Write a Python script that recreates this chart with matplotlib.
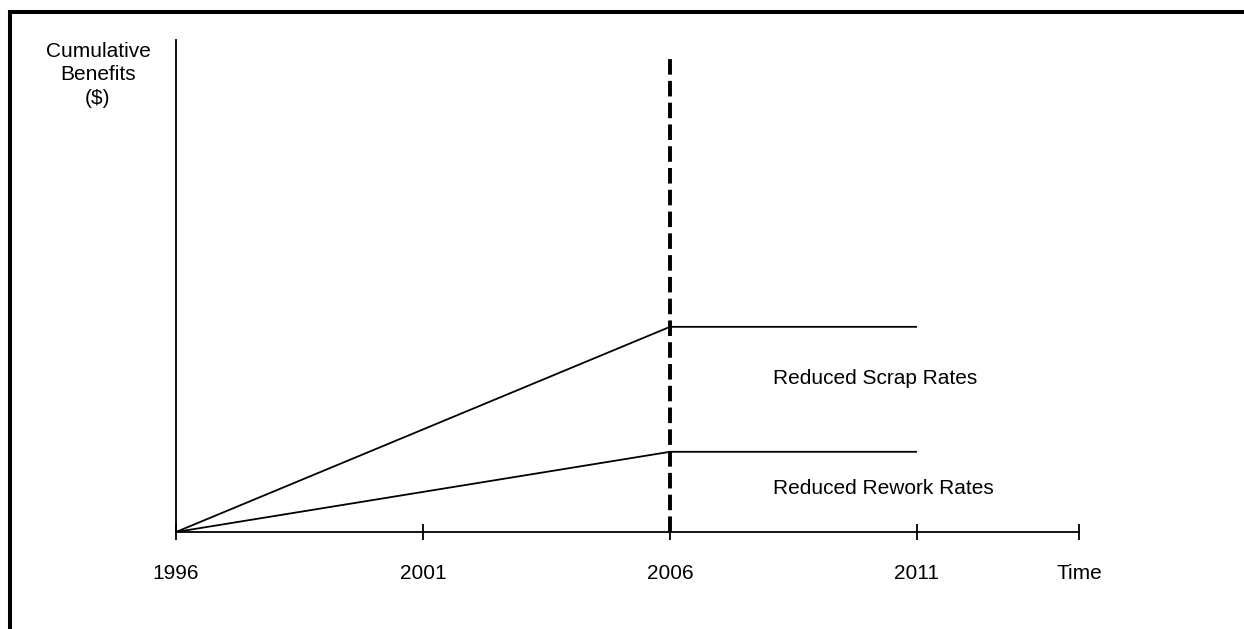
import matplotlib
matplotlib.use('Agg')
import matplotlib.pyplot as plt
from matplotlib.lines import Line2D

plt.rcParams['font.family'] = ['Liberation Sans', 'DejaVu Sans']

# Dados
anos = [1996, 2006, 2011]
sucata = [0, 41.7, 41.7]
retrabalho = [0, 16.3, 16.3]
ticks_x = [1996, 2001, 2006, 2011, 2014.28]
rotulos_x = ['1996', '2001', '2006', '2011', 'Time']
ano_corte = 2006
topo_corte = 96.5

fig = plt.figure(figsize=(12.44, 6.29), dpi=100)
ax = fig.add_axes([176 / 1244, 97 / 629, 903 / 1244, 492 / 629])
ax.set_xlim(1996, 2014.28)
ax.set_ylim(0, 100)

# Linhas de beneficio
ax.plot(anos, sucata, color='black', lw=1.3, solid_capstyle='butt')
ax.plot(anos, retrabalho, color='black', lw=1.3, solid_capstyle='butt')

# Linha tracejada vertical
ax.plot([ano_corte, ano_corte], [0, topo_corte], color='black', lw=2.8,
        dashes=(4.0, 1.6))

ax.text(2008.08, 31.3, 'Reduced Scrap Rates', fontsize=15, va='center', ha='left')
ax.text(2008.08, 8.9, 'Reduced Rework Rates', fontsize=15, va='center', ha='left')

# Eixos
for lado in ['top', 'right']:
    ax.spines[lado].set_visible(False)
ax.spines['left'].set_linewidth(1.3)
ax.spines['bottom'].set_linewidth(1.3)
ax.set_yticks([])
ax.set_xticks(ticks_x)
ax.set_xticklabels(rotulos_x, fontsize=15)
ax.tick_params(axis='x', direction='inout', length=11.5, width=1.3, pad=17.5)

fig.text(98 / 1244, 1 - 42 / 629, 'Cumulative\nBenefits\n($)', fontsize=15,
         ha='center', va='top', linespacing=1.3)

# Moldura
fig.add_artist(Line2D([10 / 1244, 10 / 1244], [0, 1 - 12 / 629], color='black', lw=2.9,
                      transform=fig.transFigure, solid_capstyle='projecting'))
fig.add_artist(Line2D([10 / 1244, 1], [1 - 12 / 629, 1 - 12 / 629], color='black', lw=2.9,
                      transform=fig.transFigure, solid_capstyle='projecting'))

fig.savefig('out.png', dpi=100)
